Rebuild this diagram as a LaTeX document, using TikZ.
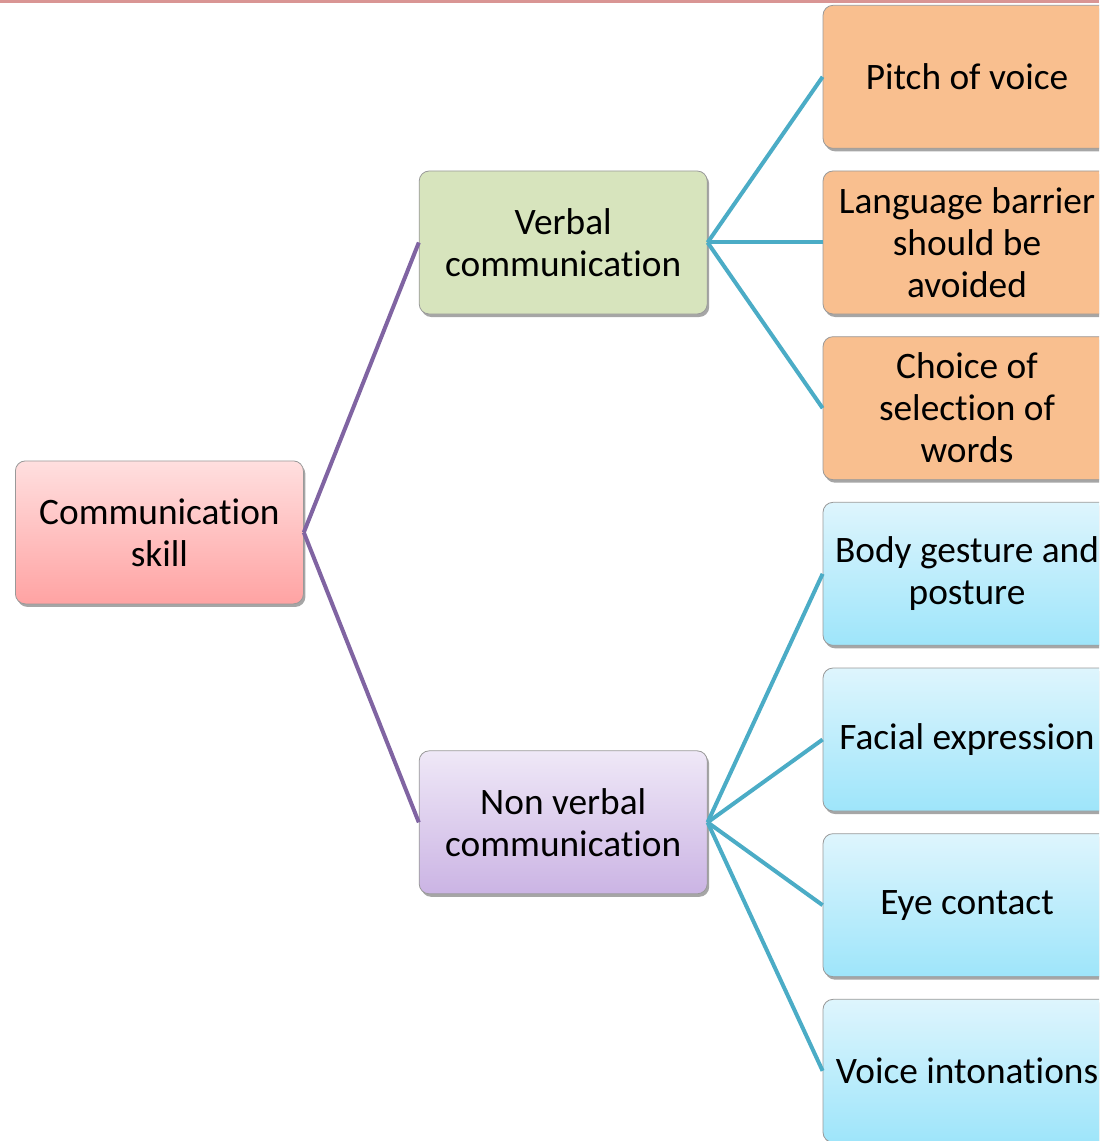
\documentclass[tikz,border=0pt]{standalone}
\usepackage{fontspec}
\setmainfont{Carlito}[Ligatures=NoCommon]
\usepackage{xcolor}
\usetikzlibrary{shapes,positioning,calc,shadows}

\definecolor{topLine}{HTML}{D99594}
\definecolor{rootTop}{HTML}{FFDFDF}
\definecolor{rootBottom}{HTML}{FFA3A3}
\definecolor{verbalFill}{HTML}{D7E4BD}
\definecolor{lilacTop}{HTML}{EFE8F7}
\definecolor{lilacBottom}{HTML}{CBB4E4}
\definecolor{orangeFill}{HTML}{F9BF8F}
\definecolor{blueTop}{HTML}{DEF5FD}
\definecolor{blueBottom}{HTML}{9EE5FA}
\definecolor{purpleLine}{HTML}{8064A2}
\definecolor{tealLine}{HTML}{4BACC6}

\begin{document}
\begin{tikzpicture}[
    node distance=16.4pt and 86.25pt,
    box/.style={rectangle, draw=black!40, line width=0.6pt, rounded corners=7.5pt, align=center, minimum height=107.25pt, minimum width=216pt, inner sep=0pt, font=\fontsize{28}{31.5}\selectfont, drop shadow={shadow xshift=1.5pt, shadow yshift=-2.25pt, opacity=0.35, fill=black}},
    rootbox/.style={box, top color=rootTop, bottom color=rootBottom},
    greenbox/.style={box, fill=verbalFill},
    lilacbox/.style={box, top color=lilacTop, bottom color=lilacBottom},
    orangebox/.style={box, fill=orangeFill},
    bluebox/.style={box, top color=blueTop, bottom color=blueBottom},
    line1/.style={line width=3pt, draw=purpleLine},
    line2/.style={line width=3pt, draw=tealLine}
]
    \useasboundingbox (0,0) rectangle (824.25pt,-855.75pt);
    \clip (0,0) rectangle (824.25pt,-855.75pt);

    % right column
    \node [orangebox] at (725.25pt,-181.875pt) (language) {Language barrier\\should be\\avoided};
    \node [orangebox, above=of language] (pitch) {Pitch of voice};
    \node [orangebox, below=of language] (choice) {Choice of\\selection of\\words};
    \node [bluebox, below=of choice] (body) {Body gesture and\\posture};
    \node [bluebox, below=of body] (facial) {Facial expression};
    \node [bluebox, below=of facial] (eye) {Eye contact};
    \node [bluebox, below=of eye] (intonation) {Voice intonations};

    % middle column
    \node [greenbox, left=of language] (verbal) {Verbal\\communication};
    \coordinate (nvmid) at ($(facial.west)!0.5!(eye.west)$);
    \node [lilacbox, left=of nvmid] (nonverbal) {Non verbal\\communication};

    % root
    \coordinate (rootmid) at ($(verbal.west)!0.5!(nonverbal.west)$);
    \node [rootbox, left=of rootmid] (skill) {Communication\\skill};

    \draw [line1] (skill.east) -- (verbal.west);
    \draw [line1] (skill.east) -- (nonverbal.west);

    \foreach \leaf in {pitch, language, choice}
        \draw [line2] (verbal.east) -- (\leaf.west);
    \foreach \leaf in {body, facial, eye, intonation}
        \draw [line2] (nonverbal.east) -- (\leaf.west);

    \fill [topLine] (0,0) rectangle (824.25pt,-2.25pt);
\end{tikzpicture}
\end{document}
